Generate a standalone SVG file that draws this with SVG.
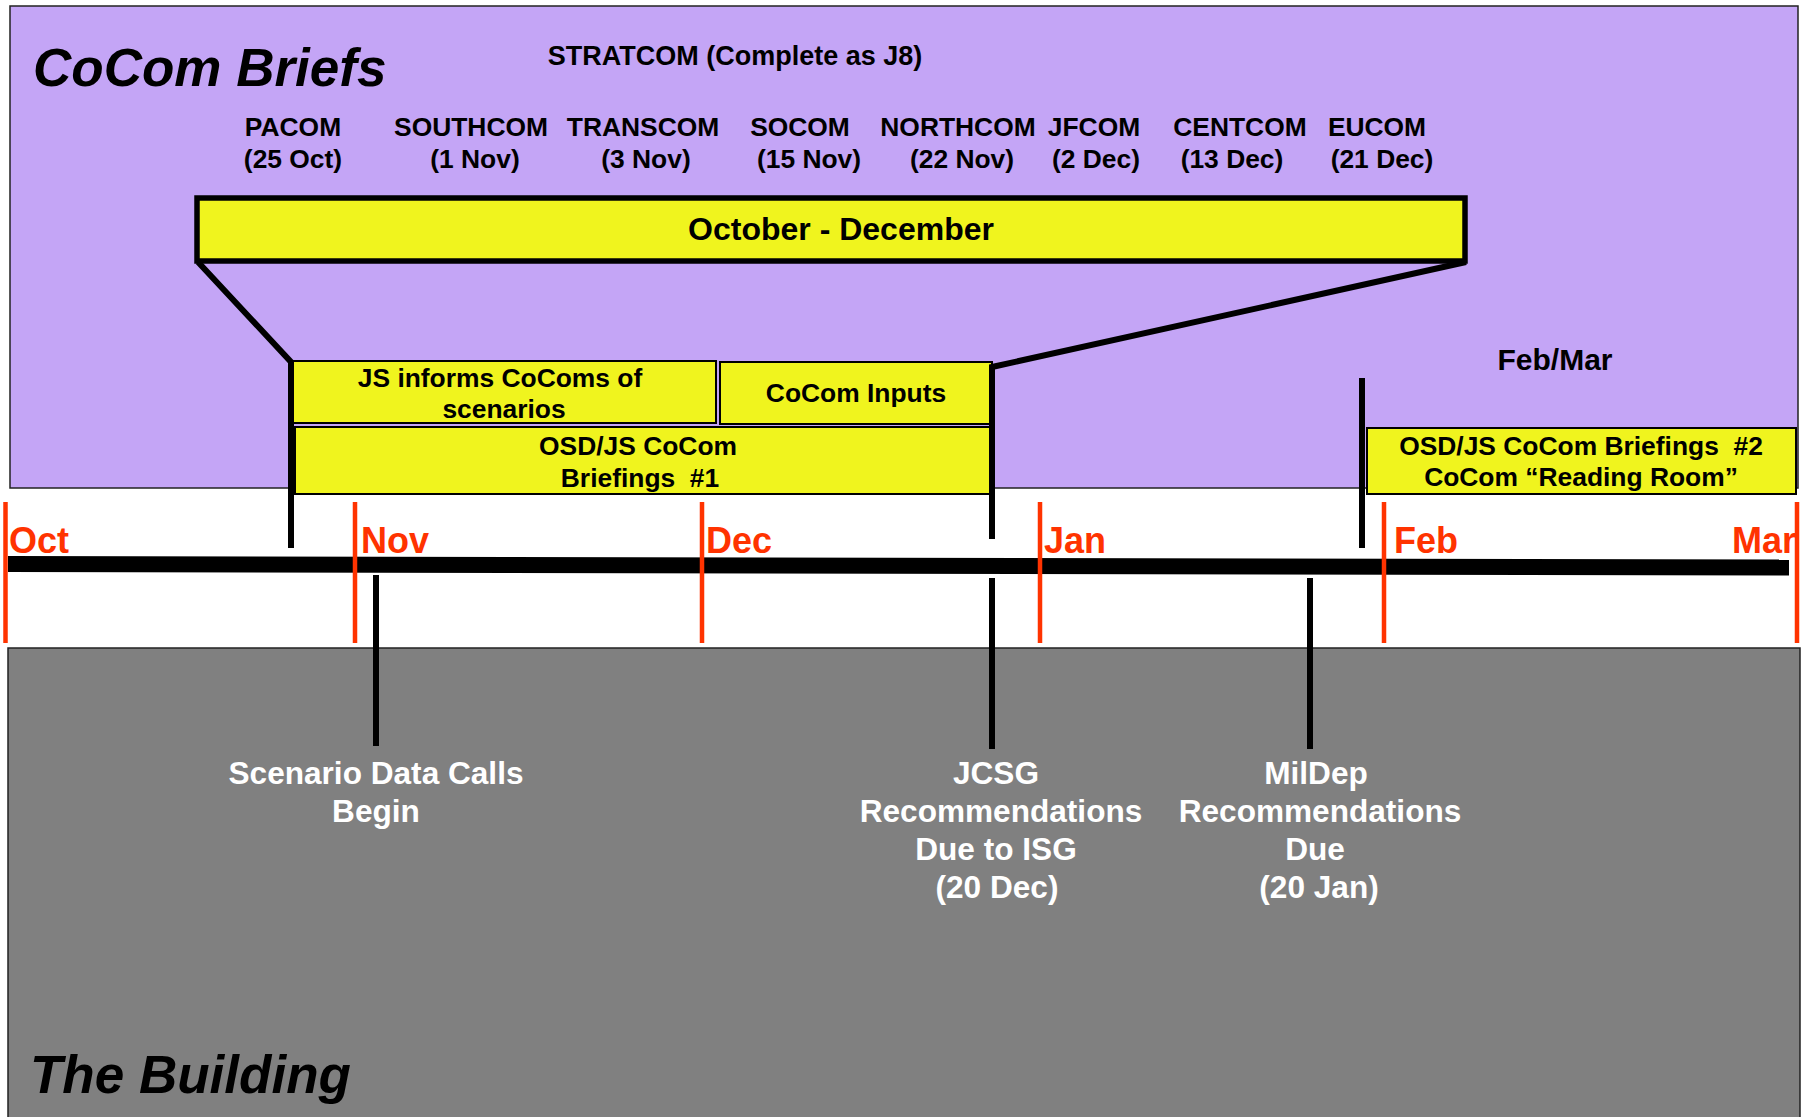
<svg xmlns="http://www.w3.org/2000/svg" width="1806" height="1117" viewBox="0 0 1806 1117">
<style>
  text { font-family: "Liberation Sans", Arial, sans-serif; font-weight: bold; }
  .t26 { font-size: 26.4px; fill: #000; text-anchor: middle; }
  .title { font-size: 53px; font-style: italic; fill: #000; }
  .month { font-size: 36px; fill: #FF3300; }
  .wht { font-size: 31.6px; fill: #fff; text-anchor: middle; }
  .ybox { fill: #F0F41E; stroke: #000; stroke-width: 2; }
  .tick { stroke: #FF3300; stroke-width: 4.5; }
  .conn { stroke: #000; stroke-width: 6; fill: none; }
</style>
<rect x="0" y="0" width="1806" height="1117" fill="#fff"/>
<g id="cocom-panel">
  <rect x="10" y="6" width="1788" height="482" fill="#C4A5F6" stroke="#222" stroke-width="1.5"/>
  <text class="title" x="33" y="86">CoCom Briefs</text>
  <text class="t26" x="735" y="65" style="font-size:27px">STRATCOM (Complete as J8)</text>
</g>
<g id="building-panel">
  <rect x="8" y="648" width="1792" height="470" fill="#808080" stroke="#222" stroke-width="1.5"/>
  <text class="title" x="30" y="1093">The Building</text>
</g>
<g id="cocom-list">
  <text class="t26" x="293" y="135.5">PACOM</text><text class="t26" x="293" y="167.5">(25 Oct)</text>
  <text class="t26" x="471" y="135.5">SOUTHCOM</text><text class="t26" x="475" y="167.5">(1 Nov)</text>
  <text class="t26" x="643" y="135.5">TRANSCOM</text><text class="t26" x="646" y="167.5">(3 Nov)</text>
  <text class="t26" x="800" y="135.5">SOCOM</text><text class="t26" x="809" y="167.5">(15 Nov)</text>
  <text class="t26" x="958" y="135.5">NORTHCOM</text><text class="t26" x="962" y="167.5">(22 Nov)</text>
  <text class="t26" x="1094" y="135.5">JFCOM</text><text class="t26" x="1096" y="167.5">(2 Dec)</text>
  <text class="t26" x="1240" y="135.5">CENTCOM</text><text class="t26" x="1232" y="167.5">(13 Dec)</text>
  <text class="t26" x="1377" y="135.5">EUCOM</text><text class="t26" x="1382" y="167.5">(21 Dec)</text>
</g>
<g id="oct-dec">
  <rect x="197" y="198" width="1268" height="63" fill="#F0F41E" stroke="#000" stroke-width="5.5"/>
  <text x="841" y="240" font-size="32" text-anchor="middle">October - December</text>
</g>
<g id="js-informs">
  <rect class="ybox" x="293" y="361" width="423" height="62"/>
  <text class="t26" x="500" y="387">JS informs CoComs of</text>
  <text class="t26" x="504" y="418">scenarios</text>
</g>
<g id="cocom-inputs">
  <rect class="ybox" x="720" y="362" width="272" height="62"/>
  <text class="t26" x="856" y="402">CoCom Inputs</text>
</g>
<g id="briefings-1">
  <rect class="ybox" x="295" y="427" width="697" height="67"/>
  <text class="t26" x="638" y="455">OSD/JS CoCom</text>
  <text class="t26" x="640" y="487" xml:space="preserve">Briefings  #1</text>
</g>
<g id="feb-mar">
  <text x="1555" y="370" font-size="30" text-anchor="middle">Feb/Mar</text>
</g>
<g id="briefings-2">
  <rect class="ybox" x="1367" y="428" width="429" height="66"/>
  <text class="t26" x="1581" y="455" xml:space="preserve">OSD/JS CoCom Briefings  #2</text>
  <text class="t26" x="1581" y="486">CoCom “Reading Room”</text>
</g>
<g id="timeline">
  <line x1="8" y1="564" x2="1789" y2="567.5" stroke="#000" stroke-width="16"/>
  <line class="tick" x1="5.5" y1="502" x2="5.5" y2="643"/>
  <line class="tick" x1="355" y1="502" x2="355" y2="643"/>
  <line class="tick" x1="702" y1="502" x2="702" y2="643"/>
  <line class="tick" x1="1040" y1="502" x2="1040" y2="643"/>
  <line class="tick" x1="1384" y1="502" x2="1384" y2="643"/>
  <line class="tick" x1="1797" y1="502" x2="1797" y2="643"/>
  <text class="month" x="9" y="553">Oct</text>
  <text class="month" x="361" y="553">Nov</text>
  <text class="month" x="706" y="553">Dec</text>
  <text class="month" x="1044" y="553">Jan</text>
  <text class="month" x="1394" y="553">Feb</text>
  <text class="month" x="1732" y="553">Mar</text>
</g>
<g id="scenario-data-calls">
  <text class="wht" x="376" y="784">Scenario Data Calls</text>
  <text class="wht" x="376" y="822">Begin</text>
</g>
<g id="jcsg">
  <text class="wht" x="996" y="784">JCSG</text>
  <text class="wht" x="1001" y="822">Recommendations</text>
  <text class="wht" x="996" y="860">Due to ISG</text>
  <text class="wht" x="997" y="898">(20 Dec)</text>
</g>
<g id="mildep">
  <text class="wht" x="1316" y="784">MilDep</text>
  <text class="wht" x="1320" y="822">Recommendations</text>
  <text class="wht" x="1315" y="860">Due</text>
  <text class="wht" x="1319" y="898">(20 Jan)</text>
</g>
<g id="connectors">
  <polyline class="conn" points="198,262 291,362 291,548" stroke-linejoin="miter"/>
  <polyline class="conn" points="1466,262 992,367 992,539"/>
  <line class="conn" x1="1362" y1="378" x2="1362" y2="548"/>
  <line class="conn" x1="376" y1="575" x2="376" y2="746"/>
  <line class="conn" x1="992" y1="578" x2="992" y2="749"/>
  <line class="conn" x1="1310" y1="578" x2="1310" y2="749"/>
</g>
</svg>
